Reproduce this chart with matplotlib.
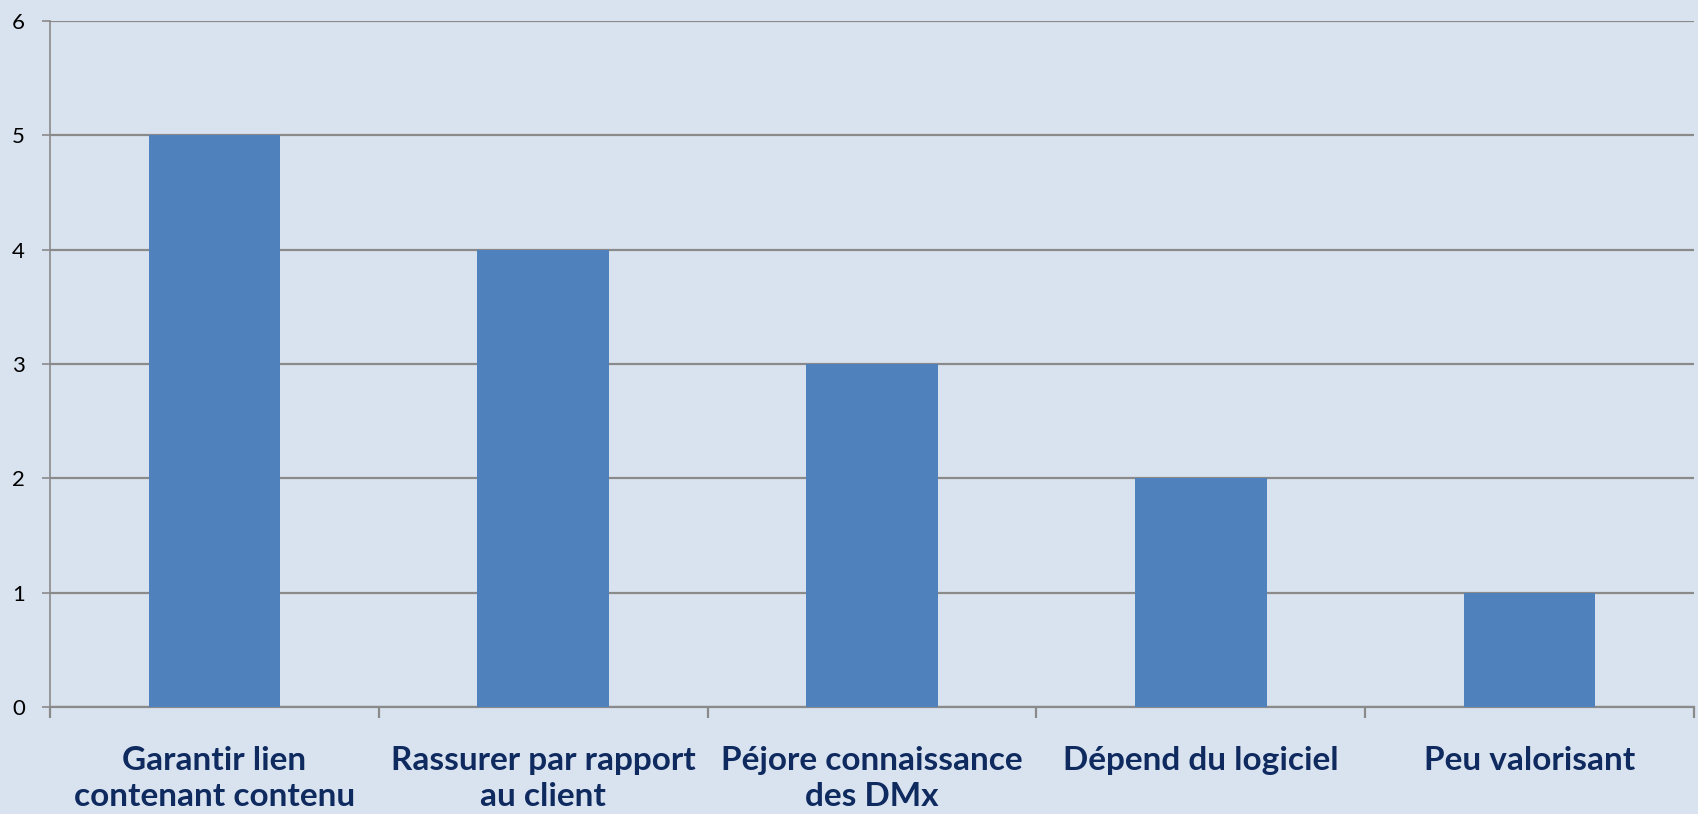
import numpy as np
import matplotlib
matplotlib.use('Agg')
import matplotlib.pyplot as plt
from matplotlib.ticker import FixedLocator

# Data
categories = ['Garantir lien\ncontenant contenu',
              'Rassurer par rapport\nau client',
              'Péjore connaissance\ndes DMx',
              'Dépend du logiciel',
              'Peu valorisant']
values = [5, 4, 3, 2, 1]
y_ticks = [0, 1, 2, 3, 4, 5, 6]

# Style
BG = '#d9e3f0'
BAR = '#4f81bd'
GRID = '#8a8a8a'
LABEL = '#0f2a5e'

plt.rcParams['font.family'] = ['Lato', 'DejaVu Sans']

fig = plt.figure(figsize=(16.98, 8.14), dpi=100)
fig.patch.set_facecolor(BG)
ax = fig.add_axes([50 / 1698, 1 - 707 / 814, (1694 - 50) / 1698, (707 - 21) / 814])
ax.set_facecolor('none')

x = np.arange(len(categories))
ax.bar(x, values, width=0.40, color=BAR, zorder=3)

ax.set_xlim(-0.5, len(categories) - 0.5)
ax.set_ylim(0, 6)
ax.set_yticks(y_ticks)
ax.yaxis.grid(True, color=GRID, linewidth=1.6, zorder=1)

for side in ['top', 'right']:
    ax.spines[side].set_visible(False)
ax.spines['left'].set_color(GRID)
ax.spines['left'].set_linewidth(1.2)
ax.spines['bottom'].set_color(GRID)
ax.spines['bottom'].set_linewidth(1.6)

ax.tick_params(axis='y', length=6, width=1.2, color=GRID, pad=12,
               labelsize=16, labelcolor='black')

# category boundaries as major ticks, names as minor tick labels
ax.xaxis.set_major_locator(FixedLocator(np.arange(-0.5, len(categories), 1.0)))
ax.xaxis.set_minor_locator(FixedLocator(x))
ax.tick_params(axis='x', which='major', length=8, width=1.6, color=GRID,
               labelbottom=False)
ax.tick_params(axis='x', which='minor', length=0, pad=28)
ax.set_xticklabels(categories, minor=True, fontsize=24, fontweight='bold',
                   color=LABEL, linespacing=1.3, va='top', ha='center')

fig.savefig('out.png', dpi=100, facecolor=BG)
